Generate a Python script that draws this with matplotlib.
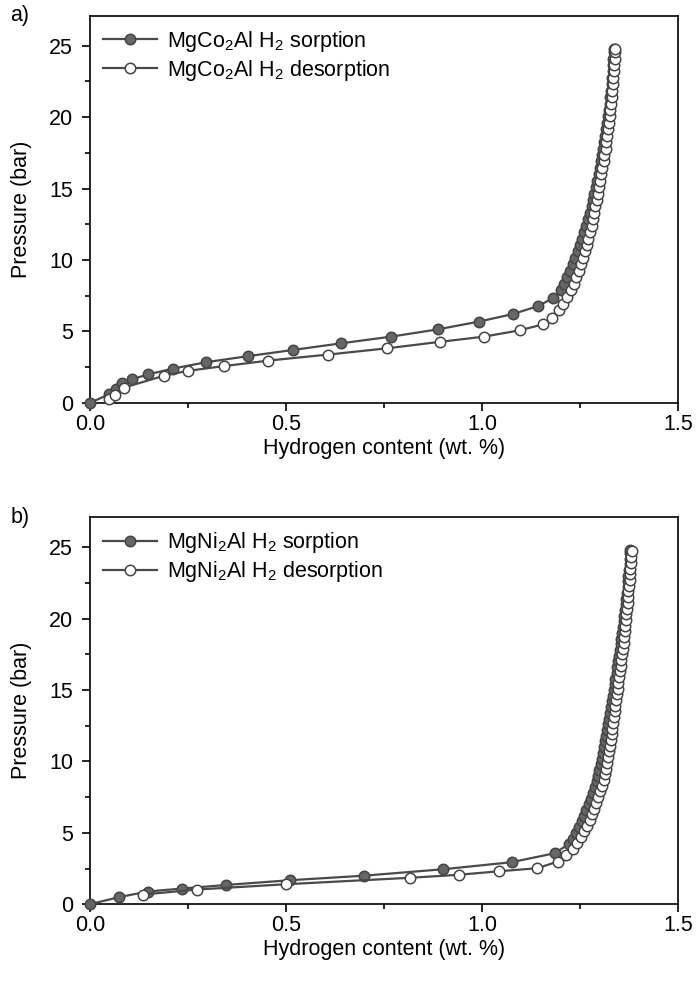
import matplotlib
matplotlib.use("Agg")
import matplotlib.pyplot as plt
from matplotlib.ticker import MultipleLocator, FormatStrFormatter

plt.rcParams["font.family"] = ["Liberation Sans", "DejaVu Sans"]
plt.rcParams["mathtext.fontset"] = "custom"
plt.rcParams["mathtext.rm"] = "Liberation Sans"
plt.rcParams["mathtext.it"] = "Liberation Sans:italic"
plt.rcParams["mathtext.default"] = "regular"

# ---- panel a) MgCo2Al ----
co_sorp_x = [0.000, 0.049, 0.066, 0.083, 0.107, 0.149, 0.212, 0.297, 0.403, 0.517,
             0.641, 0.769, 0.888, 0.992, 1.079, 1.143, 1.180, 1.201,
             1.209, 1.217, 1.224, 1.231, 1.238, 1.244, 1.250, 1.256, 1.261, 1.266,
             1.271, 1.275, 1.279, 1.283, 1.286, 1.290, 1.293, 1.297, 1.300, 1.303,
             1.306, 1.309, 1.311, 1.314, 1.316, 1.319, 1.321, 1.323, 1.325, 1.327,
             1.328, 1.330, 1.331, 1.333, 1.334, 1.335, 1.336, 1.337]
co_sorp_p = [0.00, 0.60, 1.00, 1.40, 1.65, 2.00, 2.40, 2.85, 3.27, 3.70,
             4.17, 4.64, 5.15, 5.69, 6.22, 6.78, 7.32, 7.90,
             8.35, 8.80, 9.25, 9.70, 10.15, 10.60, 11.05, 11.50, 11.95, 12.40,
             12.85, 13.30, 13.75, 14.20, 14.65, 15.10, 15.55, 16.00, 16.45, 16.90,
             17.35, 17.80, 18.25, 18.70, 19.15, 19.60, 20.05, 20.50, 20.95, 21.40,
             21.85, 22.30, 22.75, 23.20, 23.65, 24.10, 24.55, 24.80]

co_desorp_x = [0.049, 0.063, 0.087, 0.189, 0.249, 0.341, 0.455, 0.607, 0.758, 0.892,
               1.006, 1.096, 1.156, 1.179, 1.196, 1.207, 1.217,
               1.226, 1.234, 1.240, 1.246, 1.252, 1.257, 1.262, 1.267, 1.271, 1.275,
               1.279, 1.283, 1.286, 1.289, 1.292, 1.295, 1.298, 1.301, 1.304, 1.307,
               1.310, 1.312, 1.315, 1.317, 1.319, 1.321, 1.324, 1.326, 1.327, 1.329,
               1.331, 1.332, 1.334, 1.335, 1.336, 1.337, 1.338, 1.339, 1.340]
co_desorp_p = [0.26, 0.56, 1.07, 1.90, 2.24, 2.57, 2.96, 3.38, 3.82, 4.27,
               4.64, 5.08, 5.50, 5.97, 6.48, 6.95, 7.43,
               7.90, 8.35, 8.80, 9.25, 9.70, 10.15, 10.60, 11.05, 11.50, 11.95,
               12.40, 12.85, 13.30, 13.75, 14.20, 14.65, 15.10, 15.55, 16.00, 16.45,
               16.90, 17.35, 17.80, 18.25, 18.70, 19.15, 19.60, 20.05, 20.50, 20.95,
               21.40, 21.85, 22.30, 22.75, 23.20, 23.65, 24.10, 24.55, 24.80]

# ---- panel b) MgNi2Al ----
ni_sorp_x = [0.000, 0.075, 0.147, 0.236, 0.348, 0.510, 0.700, 0.901, 1.075, 1.185,
             1.221, 1.231, 1.239, 1.247, 1.254, 1.260, 1.266, 1.272, 1.277, 1.283,
             1.288, 1.292, 1.296, 1.299, 1.302, 1.305, 1.308, 1.310, 1.313, 1.316,
             1.318, 1.321, 1.324, 1.327, 1.329, 1.332, 1.334, 1.336, 1.338, 1.340,
             1.343, 1.345, 1.347, 1.349, 1.351, 1.353, 1.355, 1.357, 1.359, 1.361,
             1.362, 1.364, 1.366, 1.367, 1.369, 1.371, 1.372, 1.373, 1.375, 1.376,
             1.377, 1.378, 1.378]
ni_sorp_p = [0.00, 0.50, 0.89, 1.10, 1.35, 1.68, 2.00, 2.45, 2.94, 3.57,
             4.20, 4.60, 5.00, 5.40, 5.80, 6.20, 6.60, 7.00, 7.40, 7.80,
             8.20, 8.60, 9.00, 9.40, 9.80, 10.20, 10.60, 11.00, 11.40, 11.80,
             12.20, 12.60, 13.00, 13.40, 13.80, 14.20, 14.60, 15.00, 15.40, 15.80,
             16.20, 16.60, 17.00, 17.40, 17.80, 18.20, 18.60, 19.00, 19.40, 19.80,
             20.20, 20.60, 21.00, 21.40, 21.80, 22.20, 22.60, 23.00, 23.40, 23.80,
             24.20, 24.60, 24.80]

ni_desorp_x = [0.135, 0.274, 0.500, 0.815, 0.940, 1.044, 1.141, 1.193, 1.213, 1.232,
               1.242, 1.251, 1.259, 1.267, 1.274, 1.280, 1.286, 1.291, 1.296, 1.301,
               1.306, 1.310, 1.313, 1.316, 1.319, 1.321, 1.323, 1.326, 1.328, 1.330,
               1.332, 1.334, 1.336, 1.338, 1.340, 1.342, 1.344, 1.346, 1.347, 1.349,
               1.351, 1.353, 1.355, 1.357, 1.359, 1.361, 1.362, 1.364, 1.365, 1.367,
               1.368, 1.369, 1.371, 1.372, 1.373, 1.374, 1.376, 1.377, 1.378, 1.379,
               1.380, 1.381]
ni_desorp_p = [0.68, 1.03, 1.40, 1.85, 2.06, 2.31, 2.52, 2.99, 3.43, 3.90,
               4.30, 4.70, 5.10, 5.50, 5.90, 6.30, 6.70, 7.10, 7.50, 7.90,
               8.30, 8.70, 9.10, 9.50, 9.90, 10.30, 10.70, 11.10, 11.50, 11.90,
               12.30, 12.70, 13.10, 13.50, 13.90, 14.30, 14.70, 15.10, 15.50, 15.90,
               16.30, 16.70, 17.10, 17.50, 17.90, 18.30, 18.70, 19.10, 19.50, 19.90,
               20.30, 20.70, 21.10, 21.50, 21.90, 22.30, 22.70, 23.10, 23.50, 23.90,
               24.30, 24.70]

line_col = "#4a4a4a"
fill_col = "#666666"
fs = 15.5

fig = plt.figure(figsize=(6.97, 9.85), dpi=100)
ax_a = fig.add_axes([0.129, 0.591, 0.844, 0.393])
ax_b = fig.add_axes([0.129, 0.082, 0.844, 0.393])

panels = [
    (ax_a, "a)", "MgCo$_2$Al", co_sorp_x, co_sorp_p, co_desorp_x, co_desorp_p),
    (ax_b, "b)", "MgNi$_2$Al", ni_sorp_x, ni_sorp_p, ni_desorp_x, ni_desorp_p),
]

for ax, tag, name, sx, sp, dx, dp in panels:
    ax.plot(sx, sp, "-o", color=line_col, lw=1.6, ms=7.5, mfc=fill_col,
            mec="#444444", mew=1.1, label=f"{name} H$_2$ sorption", clip_on=False, zorder=3)
    ax.plot(dx, dp, "-o", color=line_col, lw=1.6, ms=7.5, mfc="white",
            mec="#444444", mew=1.1, label=f"{name} H$_2$ desorption", clip_on=False, zorder=4)

    ax.set_xlim(0, 1.5)
    ax.set_ylim(0, 27.1)
    ax.xaxis.set_major_locator(MultipleLocator(0.5))
    ax.xaxis.set_minor_locator(MultipleLocator(0.25))
    ax.yaxis.set_major_locator(MultipleLocator(5))
    ax.yaxis.set_minor_locator(MultipleLocator(2.5))
    ax.xaxis.set_major_formatter(FormatStrFormatter("%.1f"))
    ax.tick_params(which="both", direction="out", labelsize=fs, width=1.2, top=False, right=False)
    ax.tick_params(which="major", length=6)
    ax.tick_params(which="minor", length=3.5)
    ax.tick_params(axis="y", which="major", pad=6)
    ax.tick_params(axis="x", which="major", pad=2)
    for s in ax.spines.values():
        s.set_linewidth(1.2)

    ax.set_xlabel("Hydrogen content (wt. %)", fontsize=fs, labelpad=2)
    ax.set_ylabel("Pressure (bar)", fontsize=fs, labelpad=12)

    ax.legend(loc="upper left", frameon=False, fontsize=fs, handlelength=2.5,
              handletextpad=0.5, labelspacing=0.2, borderaxespad=0.2)

    ax.text(-0.135, 1.0, tag, transform=ax.transAxes, fontsize=fs, ha="left", va="center")

fig.savefig("out.png", dpi=100)
